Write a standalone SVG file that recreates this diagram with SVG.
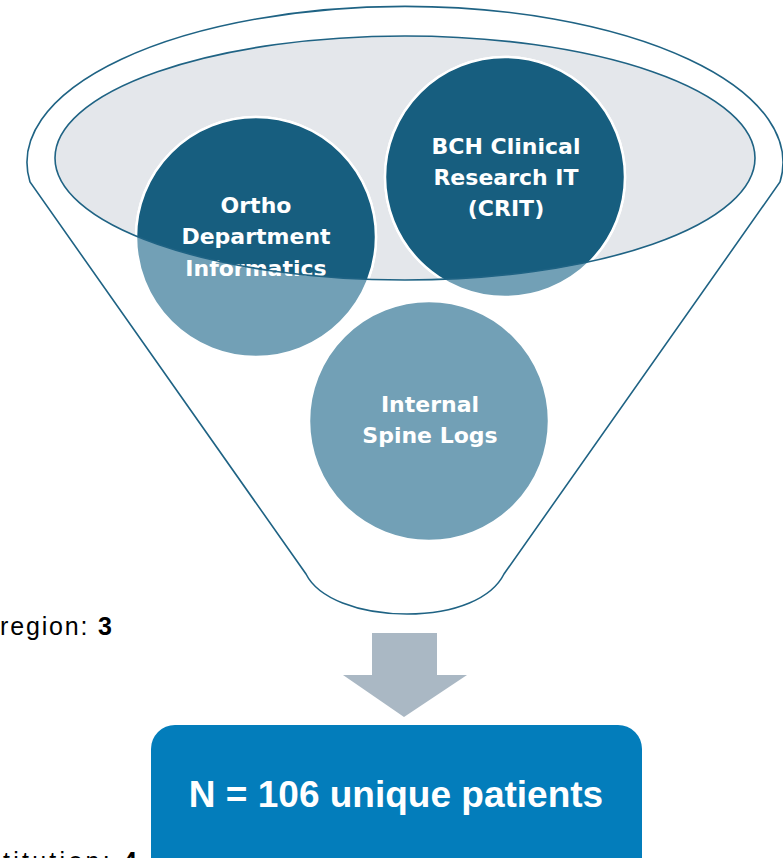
<svg xmlns="http://www.w3.org/2000/svg" width="783" height="858" viewBox="0 0 783 858">
<style>
.edge{fill:none;stroke:#1F6384;stroke-width:1.6}
.lite{fill:#72A0B6;stroke:#FFFFFF;stroke-width:2.5}
.dark{fill:#175E7F;stroke:#FFFFFF;stroke-width:2.5}
.lbl{font-family:"DejaVu Sans",sans-serif;font-weight:bold;font-size:22px;fill:#FFFFFF;text-anchor:middle}
.side{font-family:"Liberation Sans",Arial,sans-serif;font-size:25px;fill:#000000}
</style>
<defs>
<clipPath id="mouth"><ellipse cx="405" cy="158" rx="350" ry="122"/></clipPath>
</defs>
<rect width="783" height="858" fill="#FFFFFF"/>
<g id="funnel">
<path class="edge" d="M30,182 A378,156 0 1 1 780,182 L504,574 C492,598 456,614 407,614 C358,614 318,598 306,574 Z"/>
<ellipse cx="405" cy="158" rx="350" ry="122" fill="#E4E7EB"/>
</g>
<g id="ortho">
<circle class="lite" cx="256" cy="237" r="120"/>
<circle class="dark" cx="256" cy="237" r="120" clip-path="url(#mouth)"/>
<text class="lbl" x="256" y="213">Ortho</text>
<text class="lbl" x="256" y="244">Department</text>
<text class="lbl" x="256" y="276">Informatics</text>
</g>
<g id="crit">
<circle class="lite" cx="505" cy="177" r="120"/>
<circle class="dark" cx="505" cy="177" r="120" clip-path="url(#mouth)"/>
<text class="lbl" x="506" y="154">BCH Clinical</text>
<text class="lbl" x="506" y="185">Research IT</text>
<text class="lbl" x="506" y="216">(CRIT)</text>
</g>
<g id="spine">
<circle class="lite" cx="429" cy="421" r="120"/>
<text class="lbl" x="430" y="412">Internal</text>
<text class="lbl" x="430" y="443">Spine Logs</text>
</g>
<g id="mouth-rim">
<ellipse class="edge" cx="405" cy="158" rx="350" ry="122"/>
</g>
<g id="connectors">
<polygon points="372,633 437,633 437,675 467,675 404,717 343,675 372,675" fill="#AAB8C4"/>
</g>
<g id="result">
<rect x="151" y="725" width="491" height="170" rx="24" fill="#037DBB"/>
<text x="396" y="807" font-family="Liberation Sans, Arial, sans-serif" font-weight="bold" font-size="37" fill="#FFFFFF" text-anchor="middle">N = 106 unique patients</text>
</g>
<g id="side-notes">
<text class="side" x="0" y="635" textLength="112" lengthAdjust="spacing">region: <tspan font-weight="bold">3</tspan></text>
<text class="side" x="3" y="870" textLength="134" lengthAdjust="spacing">titution: <tspan font-weight="bold">4</tspan></text>
</g>
</svg>
